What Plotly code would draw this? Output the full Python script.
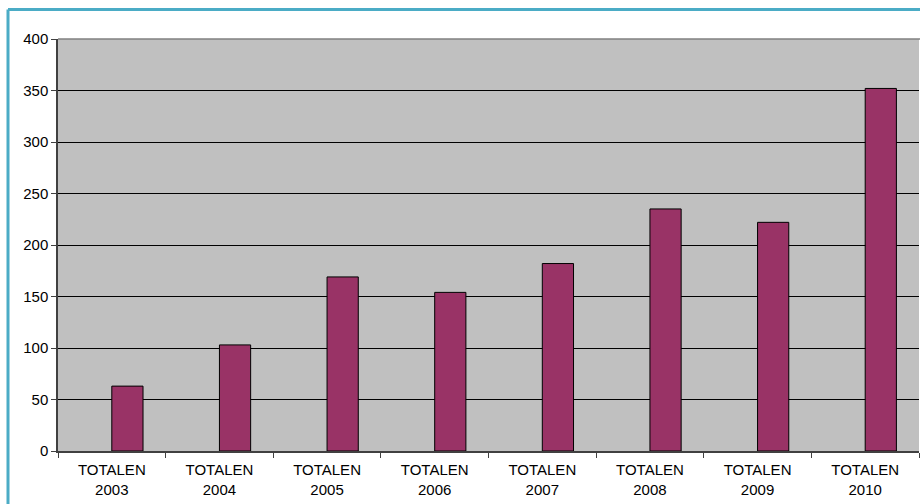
import plotly.graph_objects as go

categories = ["TOTALEN<br>2003", "TOTALEN<br>2004", "TOTALEN<br>2005", "TOTALEN<br>2006",
              "TOTALEN<br>2007", "TOTALEN<br>2008", "TOTALEN<br>2009", "TOTALEN<br>2010"]
values = [63, 103, 169, 154, 182, 235, 222, 352]
y_ticks = [0, 50, 100, 150, 200, 250, 300, 350, 400]

W, H = 920, 504
L, R, T, B = 58, 1, 39, 53
pw, ph = W - L - R, H - T - B

fig = go.Figure(go.Bar(
    x=categories, y=values,
    marker=dict(color="#993366", line=dict(color="#000000", width=1)),
    width=0.29, offset=0,
))

fig.update_layout(
    width=W, height=H,
    margin=dict(l=L, r=R, t=T, b=B),
    paper_bgcolor="white",
    plot_bgcolor="#C0C0C0",
    font=dict(family="Liberation Sans, Arial, sans-serif", size=15, color="#000000"),
    showlegend=False,
    xaxis=dict(
        showgrid=False, showline=True, linecolor="#404040", linewidth=2,
        ticks="outside", tickson="boundaries", ticklen=5, tickcolor="#404040",
        tickfont=dict(size=15), fixedrange=True, ticklabelstandoff=4,
    ),
    yaxis=dict(
        range=[0, 400], tickvals=y_ticks, showgrid=True, gridcolor="#000000", gridwidth=1,
        showline=True, linecolor="#404040", linewidth=1.5, zeroline=False,
        ticks="outside", ticklen=5, tickcolor="#404040", tickfont=dict(size=15),
    ),
    shapes=[
        dict(type="line", xref="paper", yref="paper", x0=0, x1=1.01, y0=1, y1=1,
             line=dict(color="#808080", width=1.5), layer="above"),
        dict(type="line", xref="paper", yref="paper",
             x0=(8 - L) / pw, x1=(8 - L) / pw, y0=-0.2, y1=(H - B - 9.5) / ph,
             line=dict(color="#4BACC6", width=3)),
        dict(type="line", xref="paper", yref="paper",
             x0=(8 - L) / pw, x1=1.05, y0=(H - B - 9.5) / ph, y1=(H - B - 9.5) / ph,
             line=dict(color="#4BACC6", width=3)),
    ],
)

fig.write_html("out.html", config={"displayModeBar": False},
               post_script="document.body.style.margin='0px';")
